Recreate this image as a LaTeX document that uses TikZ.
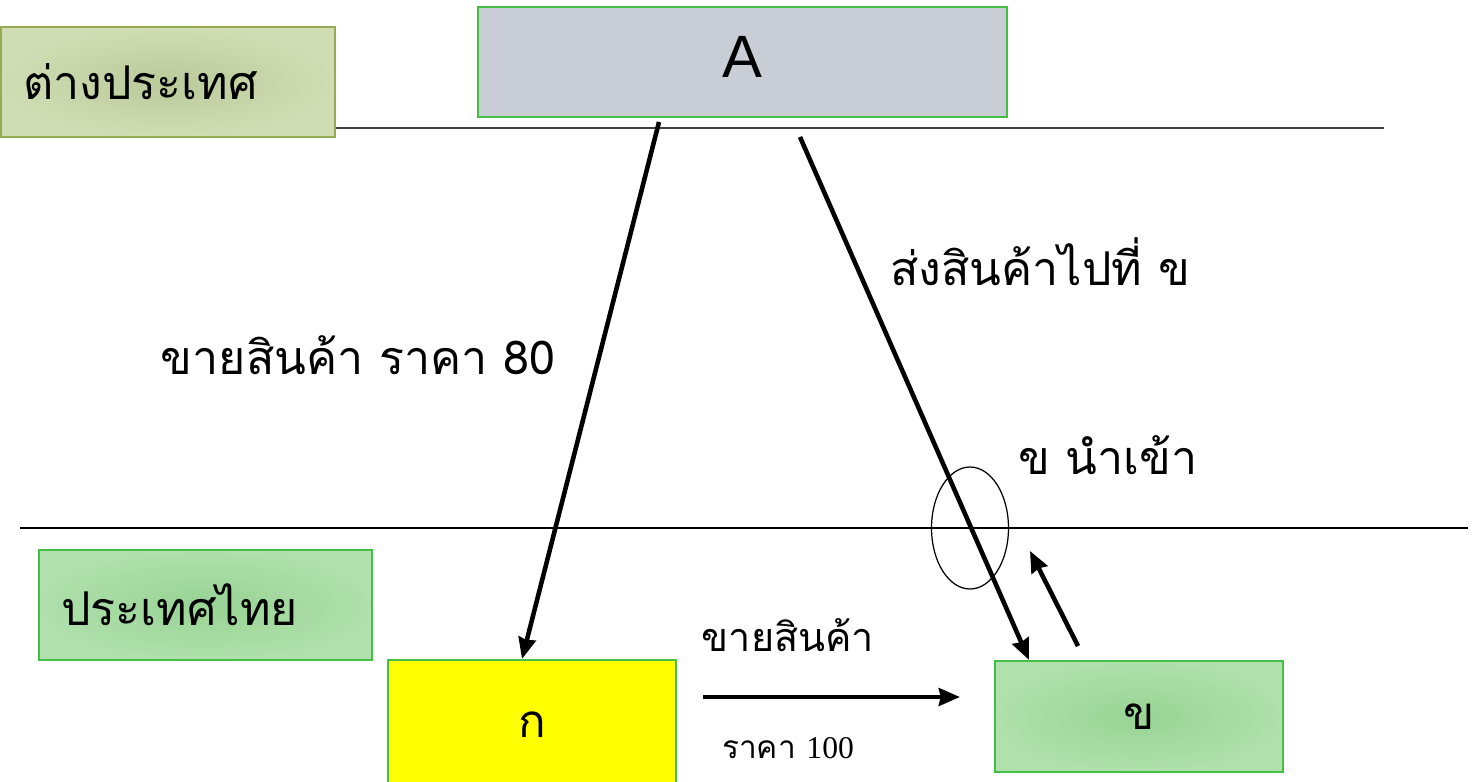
\documentclass[tikz,border=0pt]{standalone}
\usepackage{fontspec}
\setmainfont{Liberation Sans}
\newfontfamily\thaifont[Script=Thai]{Loma}
\newfontfamily\romanfont{Liberation Serif}
\usetikzlibrary{positioning,shapes.geometric,arrows.meta}

\definecolor{abroadin}{HTML}{BACA9A}
\definecolor{abroadout}{HTML}{D0DDB4}
\definecolor{abroadline}{HTML}{93AD4F}
\definecolor{thaiin}{HTML}{98D394}
\definecolor{thaiout}{HTML}{B0E0AC}
\definecolor{boxline}{HTML}{45BE45}
\definecolor{topgray}{HTML}{C9CED6}
\definecolor{rulegray}{HTML}{404040}
\definecolor{kofill}{RGB}{255,255,0}

\begin{document}
\begin{tikzpicture}[x=0.02cm, y=-0.02cm, >={Stealth[length=12pt,width=10pt,inset=1pt]},
	zone/.style={shading=radial, line width=1.2pt, inner xsep=0.44cm, inner ysep=0pt,
		minimum height=2.2cm, align=left, font=\fontsize{26.5}{30}\thaifont},
	trader/.style={draw=boxline, line width=1.2pt, minimum width=5.76cm, inner sep=0pt},
	flow/.style={->, line width=2.6pt},
	word/.style={inner sep=0pt, font=\fontsize{26.5}{30}\thaifont}]
	\useasboundingbox (0,0) rectangle (1473,781);

	% borders between the two sides
	\draw[rulegray, line width=1.2pt] (0,128) -- (1384,128);
	\draw[black, line width=0.9pt] (20,528) -- (1468,528);

	\node[zone, draw=abroadline, inner color=abroadin, outer color=abroadout, text width=5.8cm] (abroad) at (168,82) {ต่างประเทศ};
	\node[zone, draw=boxline, inner color=thaiin, outer color=thaiout, text width=5.78cm] (thai) at (205.5,605) {ประเทศไทย};

	\node[draw=boxline, fill=topgray, line width=1.2pt, minimum width=10.58cm, minimum height=2.2cm, inner sep=0pt,
		text depth=0.2cm, font=\fontsize{34}{40}\selectfont] (A) at (742.5,62) {A};
	\node[trader, fill=kofill, minimum height=2.6cm, font=\fontsize{26}{30}\thaifont] (ko) at (532,725) {ก};
	\node[trader, shading=radial, inner color=thaiin, outer color=thaiout, minimum height=2.22cm,
		font=\fontsize{26}{30}\thaifont] (kho) at (1139,716.5) {ข};

	\node[draw, ellipse, line width=0.7pt, minimum width=1.54cm, minimum height=2.44cm, inner sep=0pt] (gate) at (970,528) {};

	\coordinate (soldfrom) at (659,122);
	\coordinate (sentfrom) at (800,137);
	\coordinate (sellfrom) at (703,697);
	\coordinate (sellto) at (960,697);
	\coordinate (importfrom) at (1078,646);
	\coordinate (importto) at (1030,551);

	\draw[flow] (soldfrom) -- ([xshift=-0.2cm]ko.north);
	\draw[flow] (sentfrom) -- ([xshift=0.7cm]kho.north west);
	\draw[flow] (sellfrom) -- (sellto);
	\draw[flow] (importfrom) -- (importto);

	% labels
	\node[word] (price80) at (358,355) {ขายสินค้า ราคา 80};
	\node[word] (shipto) at (1040,262) {ส่งสินค้าไปที่ ข};
	\node[word] (imports) at (1108,455) {ข นำเข้า};
	\node[word, font=\fontsize{22.5}{26}\thaifont] (sell) at (788,635) {ขายสินค้า};
	\node[word, font=\fontsize{18}{21}\thaifont] (price100) at (788,748) {ราคา {\romanfont 100}};
\end{tikzpicture}
\end{document}
